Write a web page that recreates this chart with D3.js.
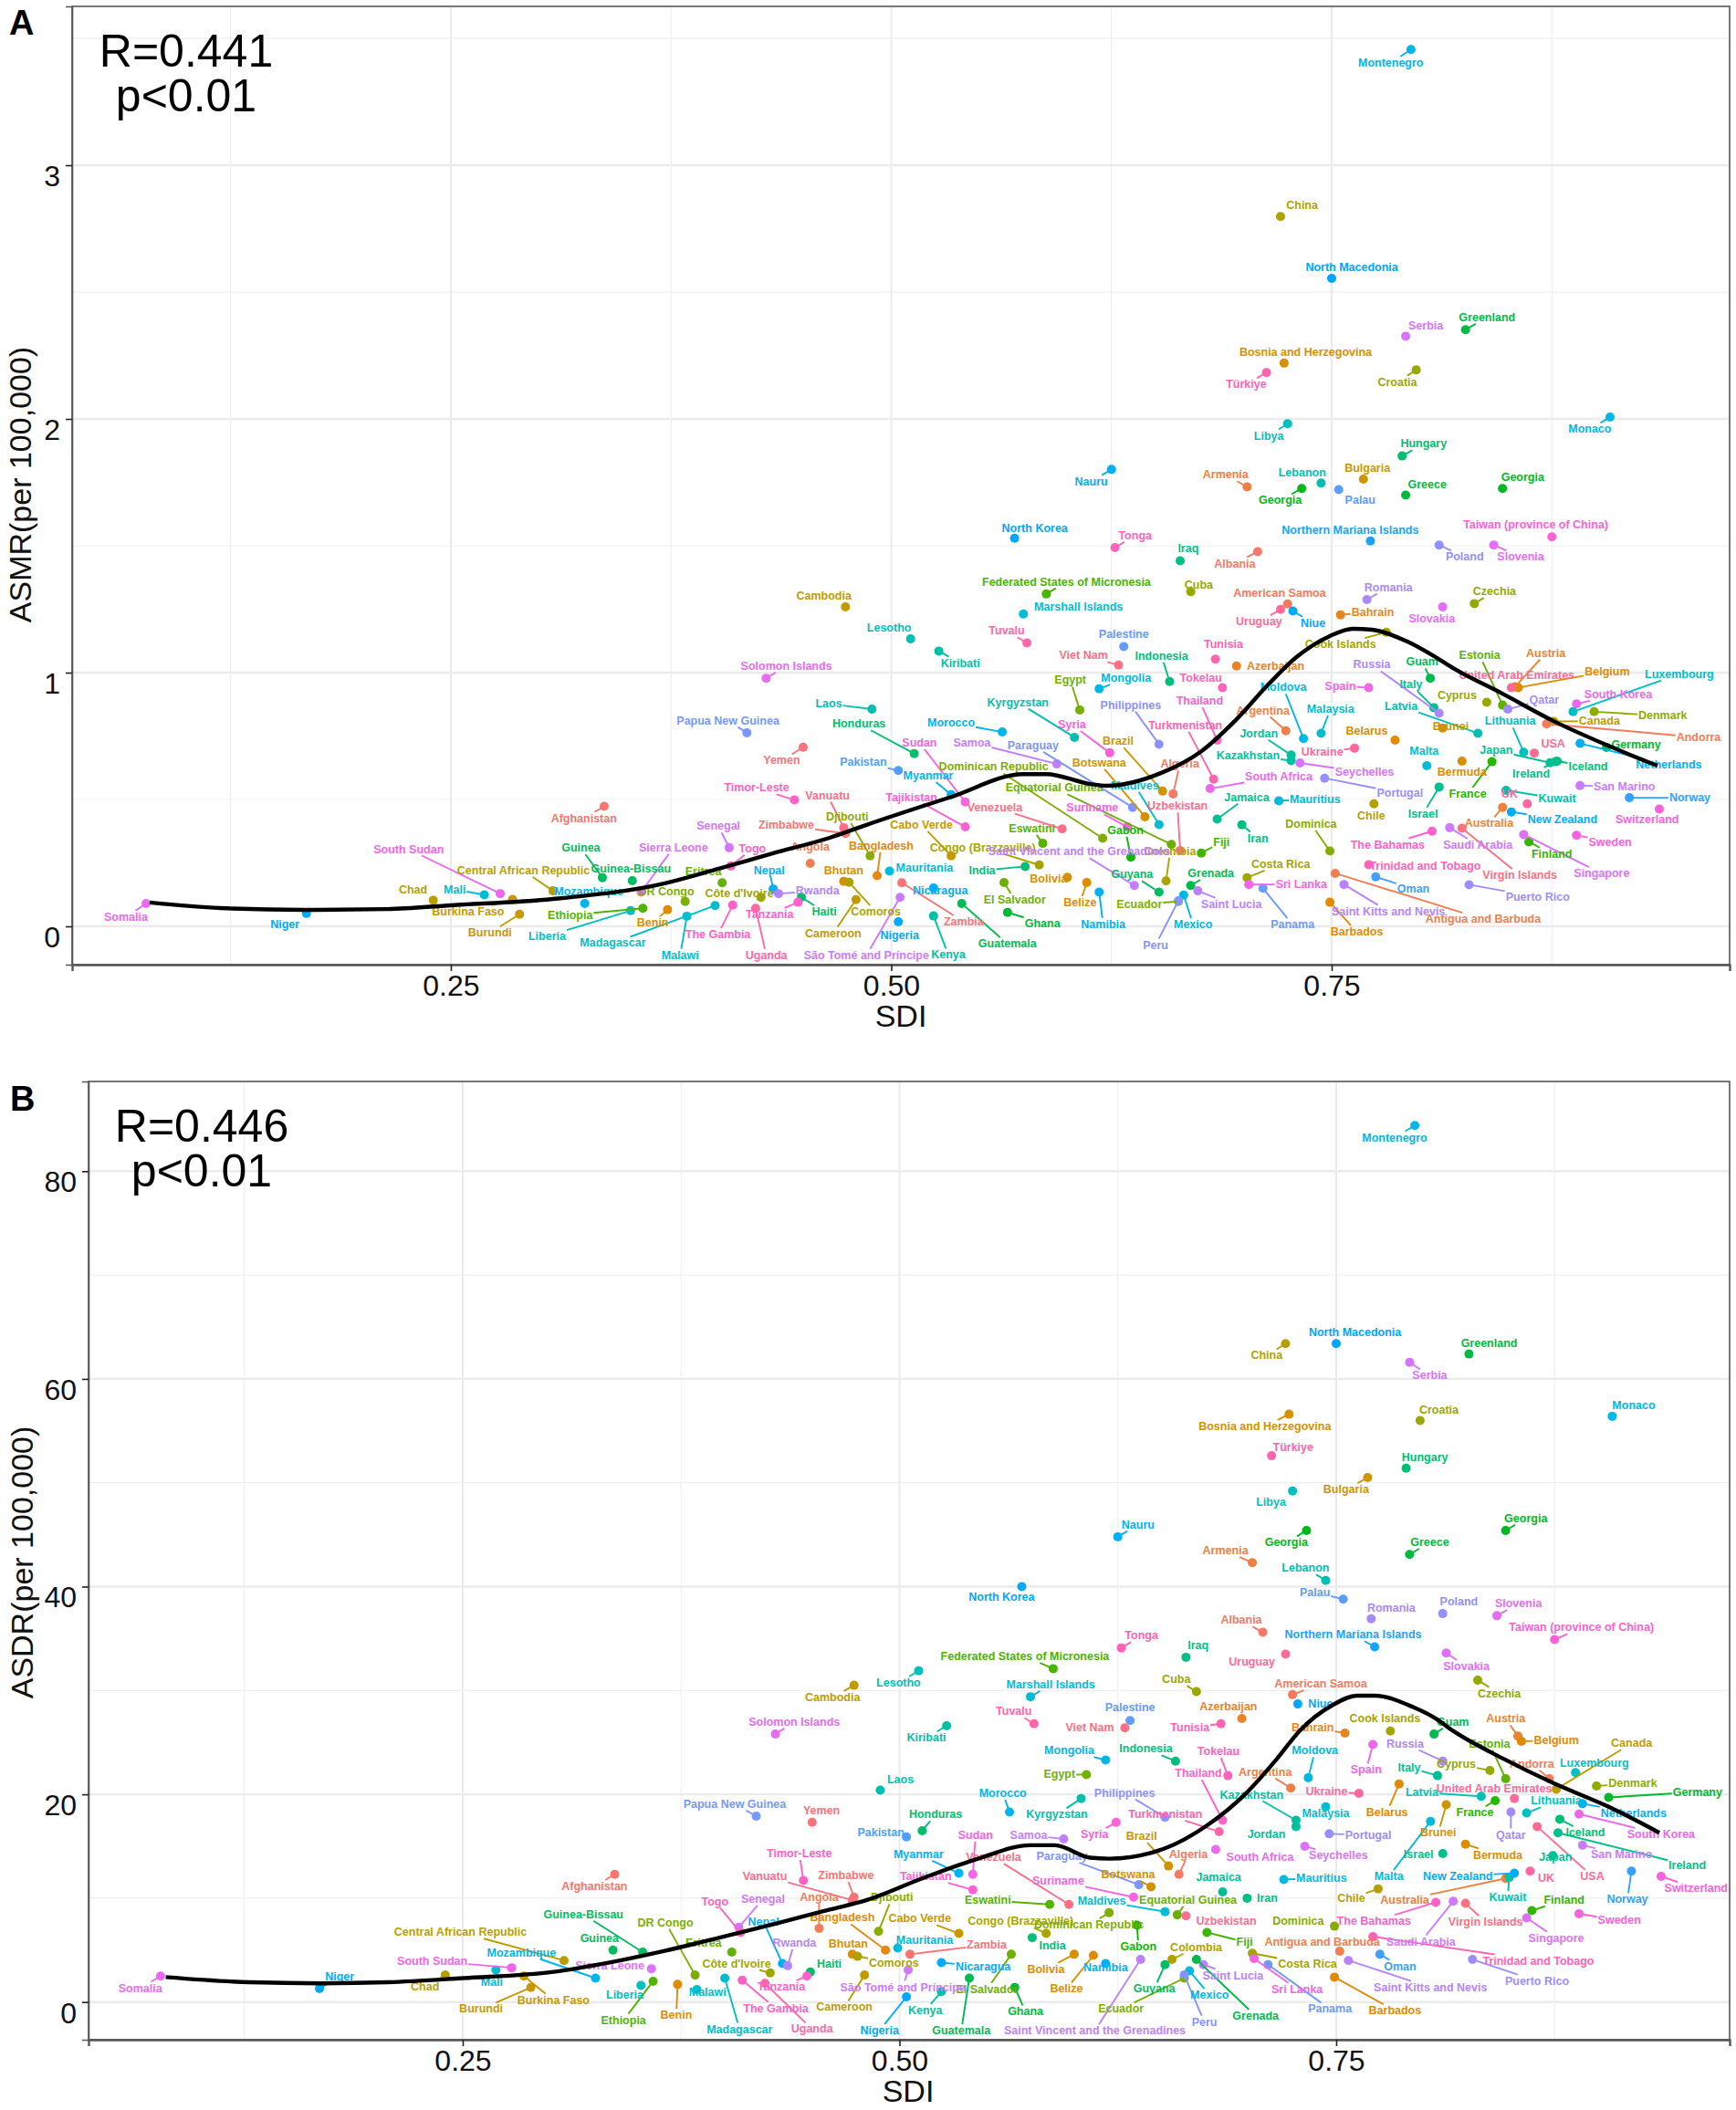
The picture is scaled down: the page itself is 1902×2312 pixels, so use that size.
<!DOCTYPE html>
<html>
<head>
<meta charset="utf-8">
<script src="https://cdnjs.cloudflare.com/ajax/libs/d3/7.8.5/d3.min.js"></script>
<style>
  body { margin: 0; background: #fff; }
  text { font-family: "Liberation Sans", Arial, sans-serif; }
</style>
</head>
<body>
<div id="chart"></div>
<script>
// Countries in alphabetical order, the colour of each comes from its rank
const countries = [
  "Afghanistan","Albania","Algeria","American Samoa","Andorra","Angola","Antigua and Barbuda","Argentina","Armenia","Australia",
  "Austria","Azerbaijan","Bahrain","Bangladesh","Barbados","Belarus","Belgium","Belize","Benin","Bermuda",
  "Bhutan","Bolivia","Bosnia and Herzegovina","Botswana","Brazil","Brunei","Bulgaria","Burkina Faso","Burundi","Cabo Verde",
  "Cambodia","Cameroon","Canada","Central African Republic","Chad","Chile","China","Colombia","Comoros","Congo (Brazzaville)",
  "Cook Islands","Costa Rica","Côte d'Ivoire","Croatia","Cuba","Cyprus","Czechia","Denmark","Djibouti","Dominica",
  "Dominican Republic","DR Congo","Ecuador","Egypt","El Salvador","Equatorial Guinea","Eritrea","Estonia","Eswatini","Ethiopia",
  "Federated States of Micronesia","Fiji","Finland","France","Gabon","Georgia","Georgia","Germany","Ghana","Greece",
  "Greenland","Grenada","Guam","Guatemala","Guinea","Guinea-Bissau","Guyana","Haiti","Honduras","Hungary",
  "Iceland","India","Indonesia","Iran","Iraq","Ireland","Israel","Italy","Jamaica","Japan",
  "Jordan","Kazakhstan","Kenya","Kiribati","Kuwait","Kyrgyzstan","Laos","Latvia","Lebanon","Lesotho",
  "Liberia","Libya","Lithuania","Luxembourg","Madagascar","Malawi","Malaysia","Maldives","Mali","Malta",
  "Marshall Islands","Mauritania","Mauritius","Mexico","Moldova","Monaco","Mongolia","Montenegro","Morocco","Mozambique",
  "Myanmar","Namibia","Nauru","Nepal","Netherlands","New Zealand","Nicaragua","Niger","Nigeria","Niue",
  "North Korea","North Macedonia","Northern Mariana Islands","Norway","Oman","Pakistan","Palau","Palestine","Panama","Papua New Guinea",
  "Paraguay","Peru","Philippines","Poland","Portugal","Puerto Rico","Qatar","Romania","Russia","Rwanda",
  "Saint Kitts and Nevis","Saint Lucia","Saint Vincent and the Grenadines","Samoa","San Marino","São Tomé and Príncipe","Saudi Arabia","Senegal","Serbia","Seychelles",
  "Sierra Leone","Singapore","Slovakia","Slovenia","Solomon Islands","Somalia","South Africa","South Korea","South Sudan","Spain",
  "Sri Lanka","Sudan","Suriname","Sweden","Switzerland","Syria","Taiwan (province of China)","Tajikistan","Tanzania","Thailand",
  "The Bahamas","The Gambia","Timor-Leste","Togo","Tokelau","Tonga","Trinidad and Tobago","Tunisia","Türkiye","Turkmenistan",
  "Tuvalu","Uganda","UK","Ukraine","United Arab Emirates","Uruguay","USA","Uzbekistan","Vanuatu","Venezuela",
  "Viet Nam","Virgin Islands","Yemen","Zambia","Zimbabwe"
];

const sdi = [
  .337,.708,.660,.725,.872,.454,.752,.724,.702,.847,
  .854,.696,.755,.492,.749,.786,.856,.611,.373,.824,
  .473,.600,.723,.644,.654,.813,.768,.285,.289,.534,
  .474,.480,.876,.308,.240,.774,.721,.656,.476,.584,
  .781,.702,.426,.798,.670,.838,.831,.899,.488,.749,
  .620,.383,.663,.607,.564,.659,.404,.847,.586,.359,
  .588,.676,.862,.841,.636,.733,.847,.906,.566,.792,
  .826,.670,.806,.540,.336,.353,.652,.449,.513,.790,
  .878,.576,.658,.699,.664,.877,.811,.808,.685,.874,
  .727,.727,.524,.527,.849,.604,.489,.833,.744,.511,
  .352,.725,.859,.887,.400,.384,.744,.652,.269,.804,
  .575,.499,.720,.666,.734,.908,.618,.795,.563,.326,
  .534,.618,.625,.433,.891,.852,.524,.168,.504,.728,
  .570,.750,.772,.919,.775,.504,.754,.632,.711,.418,
  .637,.663,.652,.811,.746,.828,.850,.770,.811,.436,
  .757,.674,.638,.594,.891,.505,.817,.408,.792,.732,
  .358,.859,.813,.842,.429,.077,.681,.889,.278,.771,
  .703,.542,.634,.889,.936,.624,.875,.542,.447,.685,
  .807,.410,.445,.409,.688,.627,.771,.684,.713,.683,
  .577,.423,.861,.763,.852,.721,.865,.664,.473,.597,
  .629,.824,.450,.506,.474
];

const asmr = [
  .473,1.477,.522,1.271,.798,.248,.209,.771,1.732,.469,
  .944,1.026,1.228,.200,.095,.734,.941,.173,.066,.651,
  .177,.193,2.220,.432,.533,.782,1.763,.106,.048,.278,
  1.259,.105,.808,.140,.103,.483,2.798,.179,.174,.242,
  1.159,.192,.114,2.193,1.319,.883,1.272,.846,.278,.297,
  .347,.098,.098,.853,.173,.323,.172,.872,.327,.071,
  1.310,.289,.333,.649,.273,1.726,1.726,.705,.055,1.700,
  2.352,.161,.978,.090,.192,.180,.135,.115,.681,1.854,
  .651,.236,.965,.400,1.441,.649,.549,.862,.423,.645,
  .675,.653,.041,1.085,.536,.745,.856,.761,1.747,1.133,
  .062,1.981,.686,.846,.082,.040,.761,.401,.124,.633,
  1.231,.218,.495,.123,.740,2.007,.936,3.456,.766,.090,
  .519,.135,1.801,.147,.721,.451,.151,.051,.018,1.243,
  1.530,2.554,1.519,.507,.195,.614,1.721,1.103,.150,.763,
  .469,.101,.718,1.503,.584,.164,.856,1.288,.840,.129,
  .165,.140,.161,.640,.555,.114,.389,.310,2.326,.644,
  .135,.362,1.259,1.503,.978,.090,.543,.877,.129,.941,
  .165,.490,.392,.359,.462,.684,1.535,.392,.095,.734,
  .375,.084,.498,.238,.941,1.493,.243,1.053,2.183,.580,
  1.117,.071,.483,.702,.941,1.249,.683,.299,.389,.384,
  1.030,.387,.706,.172,.366
];

const asdr = [
  12.3,35.6,12.3,29.6,21.5,7.1,4.9,20.6,42.3,11.9,
  25.6,27.3,25.9,5.0,2.4,21.0,25.1,4.5,1.7,15.2,
  4.6,4.6,56.6,11.1,13.1,19.0,50.5,2.5,1.4,6.6,
  30.5,2.6,20.5,4.0,2.6,10.9,63.4,4.1,4.4,6.6,
  26.1,4.7,2.8,56.0,29.9,22.3,31.0,20.8,6.8,7.3,
  8.6,2.6,2.3,21.9,4.6,8.4,4.8,21.5,9.4,2.0,
  32.1,6.7,8.8,19.4,7.4,45.4,45.4,19.7,1.4,43.1,
  62.4,4.1,25.8,2.3,5.0,4.8,3.6,2.9,16.5,51.4,
  17.6,6.2,23.2,10.0,33.2,16.3,14.3,21.8,10.6,14.1,
  16.9,17.5,1.0,26.6,12.0,19.6,20.4,19.8,40.6,31.9,
  1.6,49.2,18.2,22.1,2.3,1.2,18.8,8.7,3.1,17.4,
  29.4,5.2,11.8,3.0,21.6,56.4,23.3,84.4,18.3,2.3,
  12.4,3.7,44.8,3.7,19.1,12.4,3.8,1.3,.5,28.7,
  40.0,63.4,34.2,12.6,4.6,15.9,38.8,27.1,3.6,17.9,
  11.3,2.6,17.8,37.4,16.2,4.1,18.3,36.9,23.2,3.5,
  4.0,3.6,4.1,15.7,15.1,3.1,9.7,7.2,61.6,15.0,
  3.2,8.1,33.6,37.2,25.8,2.5,14.7,18.1,3.3,24.8,
  4.2,12.3,10.1,8.5,12.1,17.3,34.9,10.8,2.5,17.5,
  9.6,2.1,11.7,6.7,21.8,34.1,6.3,26.8,52.6,16.4,
  26.8,1.8,12.6,20.1,19.6,33.5,16.9,8.3,9.8,9.4,
  26.4,9.5,17.3,4.6,10.1
];

// The fitted smooth line of each panel
const curveSdiA = [.079,.119,.167,.214,.25,.308,.371,.402,.433,.465,.486,.534,.575,.588,.613,.622,.653,.676,.695,.714,.730,.749,.762,.773,.793,.809,.819,.847,.876,.907,.935];
const curveA = [.094,.072,.065,.068,.083,.108,.169,.227,.288,.349,.400,.51,.60,.60,.561,.554,.604,.69,.809,.953,1.061,1.144,1.173,1.169,1.122,1.061,1.018,.917,.809,.712,.633];
const curveSdiB = [.080,.128,.169,.207,.25,.302,.334,.365,.397,.428,.460,.481,.513,.545,.575,.589,.609,.620,.652,.676,.699,.716,.729,.748,.762,.772,.794,.807,.817,.846,.874,.906,.935];
const curveB = [2.4,1.9,1.8,1.9,2.3,2.9,3.8,4.9,6.2,7.5,8.9,9.8,11.9,13.8,15.1,15.1,13.9,13.8,14.8,17.0,20.2,23.4,26.1,28.6,29.5,29.5,28.4,27.3,26.1,23.4,21.1,18.8,16.3];

// Tick values and labels
const sdiTicks = [0.25, 0.5, 0.75];
const sdiMinorTicks = [0.125, 0.375, 0.625, 0.875];
const asmrTicks = [0, 1, 2, 3];
const asmrMinorTicks = [0.5, 1.5, 2.5, 3.5];
const asdrTicks = [0, 20, 40, 60, 80];
const asdrMinorTicks = [10, 30, 50, 70];

// Where each label sits relative to its point, as a repel step would leave it (dx, dy pairs)
const nudgeA = [
  [-15,9],[-17,9],[5,-22],[-6,-8],[113,10],[0,-12],[110,34],[-17,-15],[-16,-9],[-10,12],
  [23,-25],[29,0],[24,-2],[3,-22],[20,22],[-21,-7],[66,-12],[-5,15],[-11,10],[0,8],
  [0,-8],[-14,1],[16,-8],[-34,-40],[-33,-37],[6,-1],[3,-8],[-33,9],[-22,14],[-22,-23],
  [-16,-8],[-17,25],[34,0],[-22,-15],[-15,-8],[-2,9],[16,-8],[3,-22],[20,22],[-42,-13],
  [-34,9],[25,-10],[-16,-3],[-14,9],[6,-5],[-22,-5],[15,-9],[51,3],[-17,-29],[-14,-20],
  [-81,-53],[-14,-7],[-29,2],[-7,-22],[8,13],[-87,-42],[-14,-8],[-17,-37],[-8,-11],[-54,5],
  [15,-9],[15,-8],[17,9],[-18,24],[-4,-20],[-16,9],[15,-8],[22,-2],[26,8],[16,-8],
  [16,-9],[15,-9],[-6,-12],[34,30],[-16,-22],[-1,-9],[-20,-13],[17,11],[-41,-22],[16,-9],
  [23,4],[-32,3],[-6,-19],[12,10],[6,-9],[-18,9],[-12,20],[-17,-17],[22,-16],[-40,-9],
  [-24,-16],[-32,-4],[11,29],[16,9],[38,6],[-42,-26],[-32,-4],[-57,-20],[-14,-8],[-16,-8],
  [-62,19],[-14,9],[-10,-23],[79,-28],[-76,28],[-5,29],[7,-18],[-18,-29],[-22,-4],[-2,-11],
  [41,-5],[26,-2],[27,-1],[7,22],[-15,-38],[-15,9],[20,-8],[-15,10],[-38,-7],[3,-9],
  [-17,-14],[3,24],[-15,9],[-3,-14],[66,16],[38,6],[5,2],[-16,8],[1,10],[15,9],
  [15,-7],[15,-8],[-15,-8],[45,0],[28,9],[-26,-6],[16,8],[0,-9],[22,27],[-14,-9],
  [-74,-46],[-17,33],[-21,-29],[19,9],[56,11],[51,9],[27,-7],[16,-9],[-50,-36],[29,-2],
  [33,20],[25,10],[-41,-25],[-63,-16],[33,1],[-25,43],[21,13],[-8,-16],[15,-8],[48,7],
  [24,-33],[58,29],[-8,9],[20,9],[15,-9],[-15,10],[51,-9],[31,-7],[-68,-33],[-21,-1],
  [39,0],[-34,-44],[-26,-14],[25,5],[-9,8],[-28,-21],[-12,-9],[-40,-22],[-21,9],[-13,-29],
  [-33,10],[-11,22],[-28,-9],[16,-13],[-16,-7],[15,-9],[42,1],[6,-11],[-15,9],[-21,-40],
  [-15,-9],[8,35],[-13,-7],[-24,3],[4,-9],[-16,9],[14,-7],[-2,-33],[-12,-24],[-50,-16],
  [-26,-7],[43,35],[-16,10],[46,29],[-44,-6]
];

const nudgeB = [
  [-15,9],[-16,-9],[7,-15],[21,-8],[-13,-11],[0,-23],[-13,-7],[-19,-12],[-20,-9],[-75,16],
  [-9,-13],[-10,-9],[-24,-4],[-32,-24],[45,25],[-9,21],[26,-1],[-20,25],[-1,23],[24,8],
  [-3,-8],[-21,11],[-18,9],[-17,-9],[-20,-22],[-6,21],[-16,9],[22,18],[-37,16],[-29,-11],
  [-16,9],[-15,24],[56,-34],[-77,-21],[-15,9],[-20,7],[-14,9],[18,-9],[27,5],[-19,-9],
  [-4,-9],[41,8],[-25,-7],[14,-8],[-15,-9],[-25,-5],[16,10],[27,-2],[10,-25],[-27,-4],
  [-15,9],[-22,-39],[-47,23],[-20,0],[-18,26],[8,-11],[-21,-7],[-12,-26],[-46,-3],[-22,29],
  [-21,-9],[28,7],[24,-8],[-15,9],[1,16],[-15,9],[15,-9],[66,-4],[8,18],[15,-9],
  [15,-8],[44,42],[14,-9],[-6,39],[-10,-9],[-44,-28],[-8,18],[14,-6],[10,-12],[14,-8],
  [19,10],[15,6],[-22,-9],[15,0],[9,-9],[96,24],[-18,1],[-21,-6],[-3,-11],[2,1],
  [-22,6],[-33,-19],[-12,14],[-15,9],[-1,15],[-18,12],[15,-8],[-44,-3],[-15,-9],[-15,9],
  [-12,7],[-16,8],[22,-9],[14,-7],[11,38],[8,2],[0,5],[-47,-8],[-3,9],[-31,41],
  [15,-9],[20,-6],[28,-1],[15,18],[5,-20],[16,-8],[-27,-7],[-15,9],[-5,-14],[-55,-19],
  [-30,-14],[0,3],[15,-9],[-14,-31],[38,7],[-42,2],[31,3],[15,-9],[-20,25],[17,0],
  [-15,8],[14,-8],[-16,-9],[-3,21],[15,9],[-19,-3],[-21,-5],[0,-10],[46,33],[-16,-9],
  [-57,-21],[15,35],[-30,-18],[12,-9],[29,1],[48,16],[0,17],[15,-8],[-28,-13],[5,-17],
  [61,20],[22,8],[-34,53],[-26,-3],[29,7],[-4,13],[-24,30],[18,-21],[15,10],[25,7],
  [-31,-2],[22,15],[15,10],[16,-9],[14,-9],[-15,9],[33,6],[61,15],[-59,-5],[-5,19],
  [32,23],[2,-29],[-56,-12],[30,5],[26,9],[-16,9],[20,-9],[-35,-10],[-19,8],[-18,-35],
  [-46,14],[25,21],[-3,-20],[-19,-23],[-7,-18],[15,-9],[123,18],[-23,3],[16,-6],[-40,-13],
  [-15,-9],[35,34],[12,5],[-24,-1],[-15,-7],[-25,6],[41,37],[30,4],[-65,-18],[-56,-35],
  [-26,0],[15,14],[7,-9],[57,-7],[-6,-16]
];
const nudgeScale = 1.474;

// Picture size, everything is drawn into one svg
const w = 1902;
const h = 2312;
let svg = d3.select("#chart").append("svg").attr("width", w).attr("height", h);

// The default ggplot hue palette works in polar LUV, not in the Lab space of d3.hcl
function polarLuv(hue, c, l) {
  const rad = hue * Math.PI / 180;
  const uPrime = c * Math.cos(rad) / (13 * l) + 0.19793943;
  const vPrime = c * Math.sin(rad) / (13 * l) + 0.46831096;
  const Y = Math.pow((l + 16) / 116, 3);
  const X = 9 * Y * uPrime / (4 * vPrime);
  const Z = -X / 3 - 5 * Y + 3 * Y / vPrime;
  const gamma = v => {
    v = Math.min(1, Math.max(0, v));
    return 255 * (v <= 0.0031308 ? 12.92 * v : 1.055 * Math.pow(v, 1 / 2.4) - 0.055);
  };
  return d3.rgb(
    gamma(3.2406 * X - 1.5372 * Y - 0.4986 * Z),
    gamma(-0.9689 * X + 1.8758 * Y + 0.0415 * Z),
    gamma(0.0557 * X - 0.2040 * Y + 1.0570 * Z)
  ).formatHex();
}

// The hue of a country follows its alphabetical rank
const colorOf = i => polarLuv(15 + 360 * i / countries.length, 100, 65);

function drawPanel(p) {
  let xScale = d3.scaleLinear().domain(p.xDomain).range([p.left, p.right]);
  let yScale = d3.scaleLinear().domain(p.yDomain).range([p.bottom, p.top]);

  let g = svg.append("g");

  // Grid lines
  g.selectAll(".minorx").data(sdiMinorTicks).enter().append("line")
    .attr("x1", d => xScale(d)).attr("x2", d => xScale(d))
    .attr("y1", p.top).attr("y2", p.bottom)
    .attr("stroke", "#efefef").attr("stroke-width", 1.2);
  g.selectAll(".minory").data(p.yMinor).enter().append("line")
    .attr("y1", d => yScale(d)).attr("y2", d => yScale(d))
    .attr("x1", p.left).attr("x2", p.right)
    .attr("stroke", "#efefef").attr("stroke-width", 1.2);
  g.selectAll(".majorx").data(sdiTicks).enter().append("line")
    .attr("x1", d => xScale(d)).attr("x2", d => xScale(d))
    .attr("y1", p.top).attr("y2", p.bottom)
    .attr("stroke", "#ebebeb").attr("stroke-width", 2);
  g.selectAll(".majory").data(p.yTicks).enter().append("line")
    .attr("y1", d => yScale(d)).attr("y2", d => yScale(d))
    .attr("x1", p.left).attr("x2", p.right)
    .attr("stroke", "#ebebeb").attr("stroke-width", 2.4);

  // Points
  g.selectAll(".point").data(countries).enter().append("circle")
    .attr("cx", (d, i) => xScale(sdi[i]))
    .attr("cy", (d, i) => yScale(p.values[i]))
    .attr("r", 5)
    .attr("fill", (d, i) => colorOf(i));

  // Segments go under the labels, they need the label width so they are added afterwards
  let segments = g.append("g");
  let labels = g.append("g");

  countries.forEach((name, i) => {
    let px = xScale(sdi[i]);
    let py = yScale(p.values[i]);
    let lx = px + p.nudge[i][0] * nudgeScale;
    let ly = py + p.nudge[i][1] * nudgeScale;

    let label = labels.append("text")
      .attr("x", lx).attr("y", ly)
      .attr("text-anchor", "middle")
      .attr("dominant-baseline", "central")
      .attr("font-size", 12.5)
      .attr("font-weight", "bold")
      .attr("fill", colorOf(i))
      .text(name);

    // Cut the line from point to label centre at the edge of the label box
    let halfW = label.node().getComputedTextLength() / 2 + 1;
    let halfH = 7;
    let dx = lx - px;
    let dy = ly - py;
    let t = Math.min(dx ? halfW / Math.abs(dx) : 1e6, dy ? halfH / Math.abs(dy) : 1e6);
    if (t >= 1) return;
    let ex = lx - dx * t;
    let ey = ly - dy * t;
    if (Math.hypot(ex - px, ey - py) < 11) return;
    segments.append("line")
      .attr("x1", px).attr("y1", py).attr("x2", ex).attr("y2", ey)
      .attr("stroke", colorOf(i)).attr("stroke-width", 1.9);
  });

  // Smooth line on top of everything
  let line = d3.line().x(d => xScale(d[0])).y(d => yScale(d[1])).curve(d3.curveMonotoneX);
  g.append("path")
    .attr("d", line(p.curveX.map((d, i) => [d, p.curveY[i]])))
    .attr("fill", "none").attr("stroke", "#000").attr("stroke-width", 4.4);

  // Panel border
  g.append("rect")
    .attr("x", p.left).attr("y", p.top)
    .attr("width", p.right - p.left).attr("height", p.bottom - p.top)
    .attr("fill", "none").attr("stroke", "#555").attr("stroke-width", 1.6);

  // Axes
  let xAxis = d3.axisBottom(xScale).tickValues(sdiTicks).tickFormat(d3.format(".2f")).tickSize(7).tickPadding(4);
  let xg = g.append("g").attr("transform", "translate(0," + p.bottom + ")").call(xAxis);
  xg.select(".domain").attr("stroke", "#555").attr("stroke-width", 2.4);
  xg.selectAll("text").attr("font-size", 32).attr("font-family", "Liberation Sans").attr("fill", "#111");
  xg.selectAll("line").attr("stroke-width", 1.6).attr("stroke", "#222");

  let yAxis = d3.axisLeft(yScale).tickValues(p.yTicks).tickFormat(d3.format("d")).tickSize(7).tickPadding(6);
  let yg = g.append("g").attr("transform", "translate(" + p.left + ",0)").call(yAxis);
  yg.select(".domain").attr("stroke", "#555").attr("stroke-width", 1.6);
  yg.selectAll("text").attr("font-size", 32).attr("font-family", "Liberation Sans").attr("fill", "#111").attr("dy", "0.7em");
  yg.selectAll("line").attr("stroke-width", 1.6).attr("stroke", "#222");

  // Axis titles
  g.append("text")
    .attr("x", p.xTitleX).attr("y", p.xTitleY)
    .attr("text-anchor", "middle").attr("font-size", 34).attr("fill", "#111")
    .text("SDI");
  g.append("text")
    .attr("transform", "translate(" + p.yTitleX + "," + p.yTitleY + ") rotate(-90)")
    .attr("text-anchor", "middle").attr("font-size", 34).attr("fill", "#111")
    .text(p.yTitle);

  // Panel letter and the correlation note
  g.append("text").attr("x", p.letterX).attr("y", p.letterY)
    .attr("font-size", 38).attr("font-weight", "bold").attr("fill", "#000").text(p.letter);
  g.append("text").attr("x", p.noteX).attr("y", p.noteY)
    .attr("text-anchor", "middle").attr("font-size", 50).attr("fill", "#000").text(p.r);
  g.append("text").attr("x", p.noteX).attr("y", p.noteY + 49)
    .attr("text-anchor", "middle").attr("font-size", 50).attr("fill", "#000").text("p<0.01");
}

drawPanel({
  left: 79, right: 1895, top: 7, bottom: 1057,
  xDomain: [0.035, 0.9759], yDomain: [-0.151, 3.626],
  values: asmr, nudge: nudgeA, curveX: curveSdiA, curveY: curveA,
  yTicks: asmrTicks, yMinor: asmrMinorTicks,
  xTitleX: 987, xTitleY: 1125, yTitleX: 34, yTitleY: 531, yTitle: "ASMR(per 100,000)",
  letter: "A", letterX: 10, letterY: 38, noteX: 204, noteY: 73, r: "R=0.441"
});

drawPanel({
  left: 97, right: 1895, top: 1185, bottom: 2235,
  xDomain: [0.0358, 0.9752], yDomain: [-3.63, 88.64],
  values: asdr, nudge: nudgeB, curveX: curveSdiB, curveY: curveB,
  yTicks: asdrTicks, yMinor: asdrMinorTicks,
  xTitleX: 995, xTitleY: 2303, yTitleX: 36, yTitleY: 1712, yTitle: "ASDR(per 100,000)",
  letter: "B", letterX: 11, letterY: 1217, noteX: 221, noteY: 1251, r: "R=0.446"
});
</script>
</body>
</html>
